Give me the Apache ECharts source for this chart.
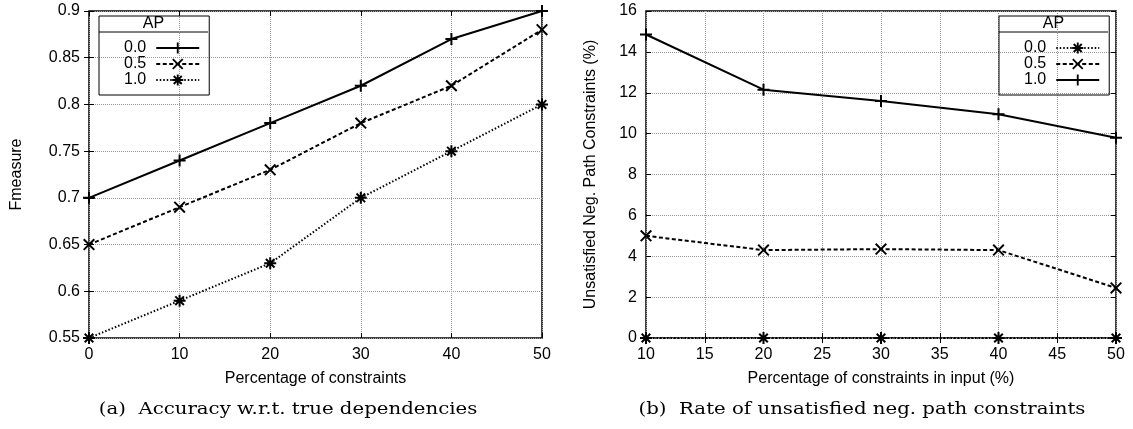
<!DOCTYPE html>
<html>
<head>
<meta charset="utf-8">
<script src="https://cdn.jsdelivr.net/npm/echarts@6/dist/echarts.min.js"></script>
<style>
  html, body { margin: 0; padding: 0; background: #fff; }
  #wrap { width: 1133px; height: 429px; position: relative; }
  #chartA { position: absolute; left: 0; top: 0; width: 566px; height: 429px; }
  #chartB { position: absolute; left: 566px; top: 0; width: 567px; height: 429px; }
</style>
</head>
<body>
<div id="wrap">
  <div id="chartA"></div>
  <div id="chartB"></div>
</div>
<script>
// (a) Fmeasure vs percentage of constraints
var xA = [0, 10, 20, 30, 40, 50];
var fAp00 = [0.70, 0.74, 0.78, 0.82, 0.87, 0.90];
var fAp05 = [0.65, 0.69, 0.73, 0.78, 0.82, 0.88];
var fAp10 = [0.55, 0.59, 0.63, 0.70, 0.75, 0.80];

// (b) unsatisfied neg. path constraints (%)
var xB = [10, 20, 30, 40, 50];
var uAp00 = [0, 0, 0, 0, 0];
var uAp05 = [5.0, 4.3, 4.35, 4.3, 2.45];
var uAp10 = [14.85, 12.15, 11.6, 10.95, 9.8];

var apNames = ['0.0', '0.5', '1.0'];
var captionA = '(a)  Accuracy w.r.t. true dependencies';
var captionB = '(b)  Rate of unsatisfied neg. path constraints';

// gnuplot style point types (filled paths)
var PLUS = 'path://M5,0H7V5H12V7H7V12H5V7H0V5H5Z';
var CROSS = 'path://M0,1.4L1.4,0L12,10.6L10.6,12ZM10.6,0L12,1.4L1.4,12L0,10.6Z';
var STAR = 'path://M5,0H7V5H12V7H7V12H5V7H0V5H5ZM1,2.4L2.4,1L11,9.6L9.6,11ZM9.6,1L11,2.4L2.4,11L1,9.6Z';

var SOLID = 'solid';
var DASHED = [4, 2.5];
var DOTTED = [1.5, 2];

var FONT = 'Liberation Sans';
var FS = 16;

function makeSeries(name, xs, ys, symbol, dash) {
  return {
    name: name,
    type: 'line',
    data: xs.map(function (x, i) { return [x, ys[i]]; }),
    symbol: symbol,
    symbolSize: 12,
    clip: false,
    itemStyle: { color: '#000' },
    lineStyle: { color: '#000', width: 2, type: dash, cap: 'butt' },
    emphasis: { disabled: true }
  };
}

function valueAxis(pos, min, max, step, main) {
  return {
    type: 'value',
    position: pos,
    min: min,
    max: max,
    interval: step,
    axisLine: { show: false },
    axisTick: { show: true, inside: true, length: 5, lineStyle: { color: '#000', width: 1 } },
    axisLabel: { show: main, color: '#000', fontSize: FS, fontFamily: FONT, margin: 9 },
    splitLine: { show: main, lineStyle: { color: '#999', width: 1, type: [1, 1] } }
  };
}

function buildOption(o) {
  return {
    animation: false,
    textStyle: { fontFamily: FONT },
    grid: {
      left: o.gridLeft, right: o.gridRight, top: 11, bottom: 91,
      show: true, borderColor: '#000', borderWidth: 1.5, backgroundColor: 'transparent'
    },
    xAxis: [
      Object.assign(valueAxis('bottom', o.xMin, o.xMax, o.xStep, true), {
        name: o.xName, nameLocation: 'middle', nameGap: 33,
        nameTextStyle: { color: '#000', fontSize: FS, fontFamily: FONT }
      }),
      valueAxis('top', o.xMin, o.xMax, o.xStep, false)
    ],
    yAxis: [
      Object.assign(valueAxis('left', o.yMin, o.yMax, o.yStep, true), {
        name: o.yName, nameLocation: 'middle', nameGap: o.yNameGap,
        nameTextStyle: { color: '#000', fontSize: FS, fontFamily: FONT }
      }),
      valueAxis('right', o.yMin, o.yMax, o.yStep, false)
    ],
    legend: {
      data: apNames,
      orient: 'vertical',
      align: 'right',
      left: o.legendLeft,
      top: 16,
      padding: [24, 9, 7, 25],
      borderColor: '#000',
      borderWidth: 1,
      itemWidth: 43,
      itemHeight: 14,
      itemGap: 0,
      selectedMode: false,
      textStyle: { color: '#000', fontSize: FS, fontFamily: FONT, padding: [0, 5, 0, 0] }
    },
    graphic: [
      {
        type: 'line',
        shape: { x1: o.legendLeft, y1: 32, x2: o.legendLeft + 109, y2: 32 },
        style: { stroke: '#000', lineWidth: 1 }
      },
      {
        type: 'text',
        x: o.legendLeft + 54.5, y: 24,
        style: {
          text: 'AP', fill: '#000', fontSize: FS, fontFamily: FONT,
          align: 'center', verticalAlign: 'middle', textAlign: 'center', textVerticalAlign: 'middle'
        }
      },
      {
        type: 'text',
        x: o.captionX, y: 410,
        scaleX: 1.16,
        style: {
          text: o.caption, fill: '#000', fontSize: 17, fontFamily: 'DejaVu Serif',
          align: 'center', verticalAlign: 'middle', textAlign: 'center', textVerticalAlign: 'middle'
        }
      }
    ],
    series: o.series
  };
}

var chartA = echarts.init(document.getElementById('chartA'));
chartA.setOption(buildOption({
  gridLeft: 89, gridRight: 24,
  xMin: 0, xMax: 50, xStep: 10,
  yMin: 0.55, yMax: 0.9, yStep: 0.05,
  xName: 'Percentage of constraints',
  yName: 'Fmeasure', yNameGap: 64,
  legendLeft: 99,
  caption: captionA, captionX: 288,
  series: [
    makeSeries(apNames[0], xA, fAp00, PLUS, SOLID),
    makeSeries(apNames[1], xA, fAp05, CROSS, DASHED),
    makeSeries(apNames[2], xA, fAp10, STAR, DOTTED)
  ]
}));

var chartB = echarts.init(document.getElementById('chartB'));
chartB.setOption(buildOption({
  gridLeft: 80, gridRight: 17,
  xMin: 10, xMax: 50, xStep: 5,
  yMin: 0, yMax: 16, yStep: 2,
  xName: 'Percentage of constraints in input (%)',
  yName: 'Unsatisfied Neg. Path Constraints (%)', yNameGap: 47,
  legendLeft: 433,
  caption: captionB, captionX: 296,
  series: [
    makeSeries(apNames[0], xB, uAp00, STAR, DOTTED),
    makeSeries(apNames[1], xB, uAp05, CROSS, DASHED),
    makeSeries(apNames[2], xB, uAp10, PLUS, SOLID)
  ]
}));
</script>
</body>
</html>
